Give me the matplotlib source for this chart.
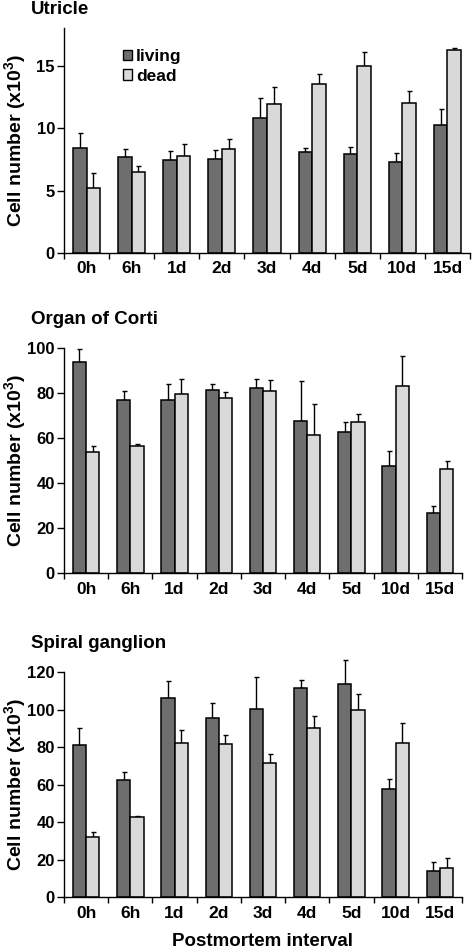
import matplotlib
matplotlib.use("Agg")
import matplotlib.pyplot as plt
from matplotlib.patches import Patch
import numpy as np

plt.rcParams['font.family'] = ['Liberation Sans', 'DejaVu Sans']
plt.rcParams['font.weight'] = 'bold'
plt.rcParams['mathtext.fontset'] = 'custom'
plt.rcParams['mathtext.bf'] = 'Liberation Sans:bold'

intervals = ['0h', '6h', '1d', '2d', '3d', '4d', '5d', '10d', '15d']

# Utricle
utr_living = [8.42, 7.70, 7.41, 7.51, 10.80, 8.07, 7.94, 7.25, 10.27]
utr_living_err = [1.22, 0.61, 0.74, 0.72, 1.57, 0.35, 0.58, 0.77, 1.25]
utr_dead = [5.23, 6.45, 7.78, 8.36, 11.95, 13.54, 15.00, 11.97, 16.22]
utr_dead_err = [1.19, 0.53, 0.93, 0.75, 1.32, 0.82, 1.11, 0.98, 0.16]

# Organ of Corti
oc_living = [93.5, 76.8, 76.9, 81.4, 82.1, 67.7, 62.6, 47.6, 26.9]
oc_living_err = [5.8, 4.1, 6.9, 2.4, 4.2, 17.7, 4.5, 6.6, 3.1]
oc_dead = [53.9, 56.6, 79.6, 77.7, 80.9, 61.1, 67.2, 83.0, 46.4]
oc_dead_err = [2.4, 0.9, 6.7, 2.5, 4.8, 13.8, 3.6, 13.3, 3.5]

# Spiral ganglion
sg_living = [81.2, 62.6, 106.1, 95.6, 100.4, 111.8, 113.8, 57.8, 14.2]
sg_living_err = [8.9, 4.1, 9.5, 8.2, 16.9, 4.1, 12.8, 5.1, 4.6]
sg_dead = [32.0, 42.8, 82.1, 81.6, 71.6, 90.5, 99.7, 82.1, 15.6]
sg_dead_err = [2.8, 0.4, 7.0, 5.2, 5.0, 6.4, 8.7, 11.1, 5.2]

c_living = '#6e6e6e'
c_dead = '#d9d9d9'

W, H = 472, 949
fig = plt.figure(figsize=(W / 100, H / 100), dpi=100)

# (title, living, err, dead, err, axes rect in px [left, top, right, bottom], ymax, yticks, title y px)
panels = [
    ('Utricle', utr_living, utr_living_err, utr_dead, utr_dead_err,
     [64, 28, 470, 253], 18, [0, 5, 10, 15], 9),
    ('Organ of Corti', oc_living, oc_living_err, oc_dead, oc_dead_err,
     [64, 347.7, 462, 573.3], 100, [0, 20, 40, 60, 80, 100], 319),
    ('Spiral ganglion', sg_living, sg_living_err, sg_dead, sg_dead_err,
     [64, 672.3, 462, 897.3], 120, [0, 20, 40, 60, 80, 100, 120], 643),
]

x = np.arange(len(intervals))
w = 0.3
for i, (name, liv, liv_e, dd, dd_e, r, ymax, yt, ty) in enumerate(panels):
    ax = fig.add_axes([r[0] / W, 1 - r[3] / H, (r[2] - r[0]) / W, (r[3] - r[1]) / H])
    ax_w, ax_h = r[2] - r[0], r[3] - r[1]
    ax.bar(x - w / 2, liv, w, color=c_living, edgecolor='black', linewidth=1.1, zorder=2)
    ax.bar(x + w / 2, dd, w, color=c_dead, edgecolor='black', linewidth=1.1, zorder=2)
    ax.errorbar(x - w / 2, liv, yerr=[np.zeros(len(x)), liv_e], fmt='none', clip_on=False,
                ecolor='black', elinewidth=1.0, capsize=1.8, capthick=1.0, zorder=1)
    ax.errorbar(x + w / 2, dd, yerr=[np.zeros(len(x)), dd_e], fmt='none', clip_on=False,
                ecolor='black', elinewidth=1.0, capsize=1.8, capthick=1.0, zorder=1)
    ax.set_xlim(-0.5, len(x) - 0.5)
    ax.set_ylim(0, ymax)
    ax.set_yticks(yt)
    ax.set_xticks(np.arange(len(x) + 1) - 0.5)
    ax.set_xticklabels([])
    ax.set_xticks(x, minor=True)
    ax.set_xticklabels(intervals, minor=True)
    ax.tick_params(axis='x', which='minor', length=0, pad=6, labelsize=12.5)
    ax.tick_params(axis='x', which='major', length=4, width=1, direction='out')
    ax.tick_params(axis='y', length=5, width=1, direction='out', labelsize=12, pad=1.5)
    for lab in ax.get_xticklabels(minor=True) + ax.get_yticklabels():
        lab.set_fontweight('bold')
    ax.spines['top'].set_visible(False)
    ax.spines['right'].set_visible(False)
    ax.spines['left'].set_linewidth(1)
    ax.spines['bottom'].set_linewidth(1)
    ax.set_ylabel('Cell number (x10$^\\mathbf{3}$)', fontsize=14, fontweight='bold', va='center')
    ax.yaxis.set_label_coords((16 - r[0]) / ax_w, 0.5)
    fig.text(31 / W, 1 - ty / H, name, fontsize=13.5, fontweight='bold',
             ha='left', va='center')
    if i == 0:
        handles = [Patch(facecolor=c_living, edgecolor='black', linewidth=1),
                   Patch(facecolor=c_dead, edgecolor='black', linewidth=1)]
        ax.legend(handles, ['living', 'dead'], loc='upper left', bbox_to_anchor=(0.145, 0.905),
                  frameon=False, handlelength=0.55, handleheight=0.55, handletextpad=0.2,
                  labelspacing=0.25, borderpad=0, borderaxespad=0,
                  prop={'size': 12.5, 'weight': 'bold'})
    if i == 2:
        ax.set_xlabel('Postmortem interval', fontsize=13.5, fontweight='bold', va='center')
        ax.xaxis.set_label_coords(0.5, -(942 - r[3]) / ax_h)

fig.savefig('out.png', dpi=100)
